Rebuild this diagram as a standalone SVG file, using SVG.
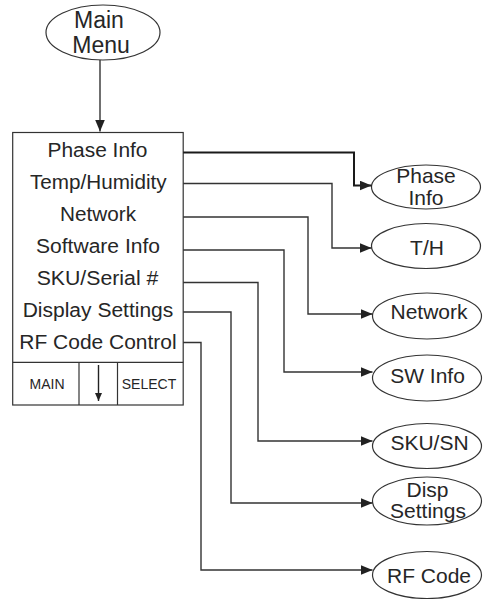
<svg xmlns="http://www.w3.org/2000/svg" width="487" height="599" viewBox="0 0 487 599">
  <style>
    .shape { fill: #ffffff; stroke: #333333; stroke-width: 1.2; }
    .t { font-family: "Liberation Sans", Arial, sans-serif; fill: #262626; text-anchor: middle; }
    .big { font-size: 23px; }
    .item { font-size: 20px; }
    .node { font-size: 21px; }
    .btn { font-size: 14px; }
    .conn { fill: none; stroke: #333333; stroke-width: 1.4; }
    .thick { stroke: #1a1a1a; stroke-width: 2; }
  </style>
  <defs>
    <marker id="arrow" markerUnits="userSpaceOnUse" markerWidth="12" markerHeight="10" refX="12" refY="5" orient="auto">
      <path d="M0,0 L12,5 L0,10 Z" fill="#222222"/>
    </marker>
    <marker id="arrowSmall" markerUnits="userSpaceOnUse" markerWidth="7" markerHeight="8" refX="8" refY="3.5" orient="auto">
      <path d="M0,0 L8,3.5 L0,7 Z" fill="#222222"/>
    </marker>
  </defs>

  <g id="main-menu">
    <ellipse class="shape" cx="103" cy="32.5" rx="57" ry="27.5"/>
    <text class="t big" x="99" y="28">Main</text>
    <text class="t big" x="101" y="53">Menu</text>
  </g>

  <g id="menu-box">
    <rect class="shape" x="12.7" y="132.5" width="170.5" height="272.5"/>
    <line class="shape" x1="12.7" y1="362.3" x2="183.2" y2="362.3"/>
    <line class="shape" x1="79" y1="362.3" x2="79" y2="405"/>
    <line class="shape" x1="117.5" y1="362.3" x2="117.5" y2="405"/>
    <text class="t item" x="97.5" y="157" textLength="100" lengthAdjust="spacingAndGlyphs">Phase Info</text>
    <text class="t item" x="98.3" y="189" textLength="136.7" lengthAdjust="spacingAndGlyphs">Temp/Humidity</text>
    <text class="t item" x="98" y="221" textLength="76" lengthAdjust="spacingAndGlyphs">Network</text>
    <text class="t item" x="98" y="253" textLength="124" lengthAdjust="spacingAndGlyphs">Software Info</text>
    <text class="t item" x="97.5" y="285" textLength="121.7" lengthAdjust="spacingAndGlyphs">SKU/Serial #</text>
    <text class="t item" x="98" y="317" textLength="150.6" lengthAdjust="spacingAndGlyphs">Display Settings</text>
    <text class="t item" x="98" y="349" textLength="157.3" lengthAdjust="spacingAndGlyphs">RF Code Control</text>
    <text class="t btn" x="47" y="389">MAIN</text>
    <text class="t btn" x="149" y="389">SELECT</text>
    <line x1="98.5" y1="365" x2="98.5" y2="401" stroke="#222222" stroke-width="1.4" marker-end="url(#arrowSmall)"/>
  </g>

  <g id="node-phase-info">
    <ellipse class="shape" cx="426" cy="187" rx="54.5" ry="22"/>
    <text class="t node" x="426" y="183">Phase</text>
    <text class="t node" x="426" y="205">Info</text>
  </g>
  <g id="node-th">
    <ellipse class="shape" cx="426" cy="246" rx="54.5" ry="22.5"/>
    <text class="t node" x="427" y="255">T/H</text>
  </g>
  <g id="node-network">
    <ellipse class="shape" cx="427" cy="316" rx="54.5" ry="23"/>
    <text class="t node" x="429" y="319">Network</text>
  </g>
  <g id="node-sw-info">
    <ellipse class="shape" cx="427" cy="378" rx="54.5" ry="23"/>
    <text class="t node" x="427.5" y="383">SW Info</text>
  </g>
  <g id="node-sku-sn">
    <ellipse class="shape" cx="427" cy="446" rx="54.5" ry="22.5"/>
    <text class="t node" x="429.5" y="450">SKU/SN</text>
  </g>
  <g id="node-disp-settings">
    <ellipse class="shape" cx="427" cy="501" rx="54.5" ry="24"/>
    <text class="t node" x="427.5" y="497">Disp</text>
    <text class="t node" x="428" y="518">Settings</text>
  </g>
  <g id="node-rf-code">
    <ellipse class="shape" cx="427" cy="575" rx="54.5" ry="23.5"/>
    <text class="t node" x="429" y="583">RF Code</text>
  </g>

  <g id="connectors">
    <path class="conn" d="M100,60 V131.5" marker-end="url(#arrow)"/>
    <path class="conn thick" d="M183.2,152.5 H354 V185.5 H371.5" marker-end="url(#arrow)"/>
    <path class="conn" d="M183.2,183.5 H332 V248 H371.5" marker-end="url(#arrow)"/>
    <path class="conn" d="M183.2,217 H308 V314 H372.5" marker-end="url(#arrow)"/>
    <path class="conn" d="M183.2,250 H284 V372 H372.5" marker-end="url(#arrow)"/>
    <path class="conn" d="M183.2,282.5 H258 V441 H372.5" marker-end="url(#arrow)"/>
    <path class="conn" d="M183.2,312 H231 V503 H372.5" marker-end="url(#arrow)"/>
    <path class="conn" d="M183.2,342.5 H201 V570 H372.5" marker-end="url(#arrow)"/>
  </g>
</svg>
